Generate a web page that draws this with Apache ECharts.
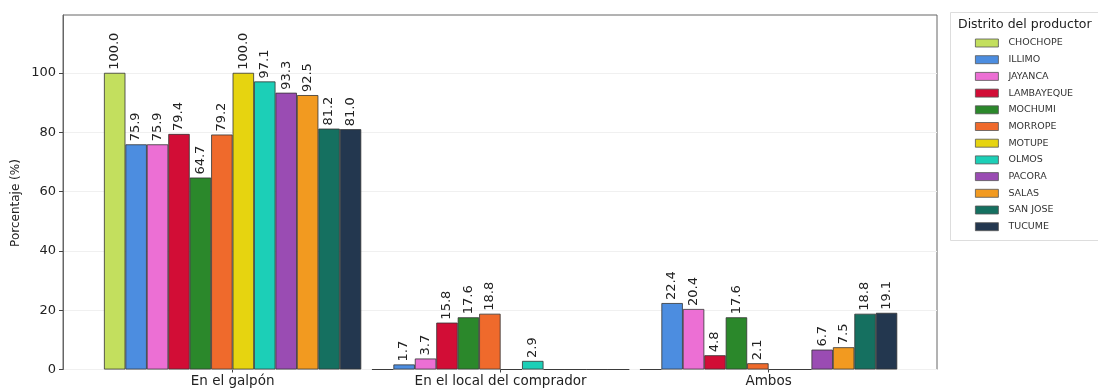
<!DOCTYPE html>
<html>
<head>
<meta charset="utf-8">
<script src="https://cdn.jsdelivr.net/npm/echarts@6/dist/echarts.min.js"></script>
<style>html,body{margin:0;padding:0;background:#fff;}#c{width:1098px;height:391px;}</style>
</head>
<body>
<div id="c"></div>
<script>
const categories = ['En el galpón', 'En el local del comprador', 'Ambos'];
const districts = ['CHOCHOPE','ILLIMO','JAYANCA','LAMBAYEQUE','MOCHUMI','MORROPE','MOTUPE','OLMOS','PACORA','SALAS','SAN JOSE','TUCUME'];
const galpon    = [100.0, 75.9, 75.9, 79.4, 64.7, 79.2, 100.0, 97.1, 93.3, 92.5, 81.2, 81.0];
const comprador = [0, 1.7, 3.7, 15.8, 17.6, 18.8, 0, 2.9, 0, 0, 0, 0];
const ambos     = [0, 22.4, 20.4, 4.8, 17.6, 2.1, 0, 0, 6.7, 7.5, 18.8, 19.1];
const yTicks = [0, 20, 40, 60, 80, 100];
const yTitle = 'Porcentaje (%)';
const legendTitle = 'Distrito del productor';
const colors = ['#c3df5e','#4c8de0','#ec6fd4','#d20d36','#2b882b','#ef6a2c','#e6d410','#1ccfb7','#9a4cb3','#f29a20','#157060','#23374f'];

const chart = echarts.init(document.getElementById('c'));
const FONT = 'DejaVu Sans';
const series = districts.map((d, i) => ({
  name: d,
  type: 'bar',
  xAxisIndex: 1,
  yAxisIndex: 1,
  barWidth: 21.44,
  barGap: '0%',
  data: [galpon[i], comprador[i], ambos[i]],
  itemStyle: { color: colors[i], borderColor: '#333', borderWidth: 0.8 },
  label: {
    show: true,
    position: 'top',
    rotate: 90,
    align: 'left',
    verticalAlign: 'middle',
    distance: 3,
    fontFamily: FONT,
    fontSize: 13,
    color: '#222',
    formatter: p => p.value > 0 ? p.value.toFixed(1) : ''
  }
}));

chart.setOption({
  animation: false,
  backgroundColor: '#fff',
  textStyle: { fontFamily: FONT },
  grid: [
    { left: 63, right: 161, top: 15, bottom: 21.5, show: true, borderColor: '#666', borderWidth: 1, backgroundColor: 'transparent' },
    { left: 98.6, width: 804, top: 15, bottom: 21.5 }
  ],
  xAxis: [
    { type: 'value', gridIndex: 0, show: false, min: 0, max: 1 },
    { type: 'category', gridIndex: 1, data: categories,
      axisLine: { show: false },
      axisTick: { show: true, alignWithLabel: true, length: 3, lineStyle: { color: '#444' } },
      axisLabel: { fontFamily: FONT, fontSize: 13.5, color: '#222', margin: 5 } }
  ],
  yAxis: [
    { type: 'value', gridIndex: 0, min: 0, max: 119.5, interval: 20,
      axisLine: { show: true, lineStyle: { color: '#666' } },
      axisTick: { show: true, length: 4, customValues: yTicks, lineStyle: { color: '#444' } },
      axisLabel: { fontFamily: FONT, fontSize: 13, color: '#222', margin: 7, customValues: yTicks,
        formatter: v => yTicks.indexOf(v) >= 0 ? String(v) : '' },
      splitLine: { show: true, lineStyle: { color: '#f0f0f0', width: 1 } } },
    { type: 'value', gridIndex: 1, min: 0, max: 119.5, interval: 20, show: false, splitLine: { show: false } }
  ],
  legend: {
    data: districts,
    orient: 'vertical',
    left: 975,
    top: 38,
    padding: 0,
    itemWidth: 23,
    itemHeight: 8,
    itemGap: 6.7,
    icon: 'rect',
    textStyle: { fontFamily: FONT, fontSize: 9.5, color: '#333', padding: [0, 0, 0, 5] },
    itemStyle: { borderColor: '#555', borderWidth: 0.8 }
  },
  graphic: [
    { type: 'rect', left: 950, top: 12, shape: { width: 160, height: 228 }, style: { fill: '#fff', stroke: '#ddd', lineWidth: 1 }, z: -1 },
    { type: 'text', left: 958, top: 18, style: { text: legendTitle, font: '12.5px "DejaVu Sans"', fill: '#222' } },
    { type: 'text', x: 16, y: 203, rotation: Math.PI / 2,
      style: { text: yTitle, font: '12px "DejaVu Sans"', fill: '#222', align: 'center', verticalAlign: 'middle' } }
  ],
  series: series
});
</script>
</body>
</html>
